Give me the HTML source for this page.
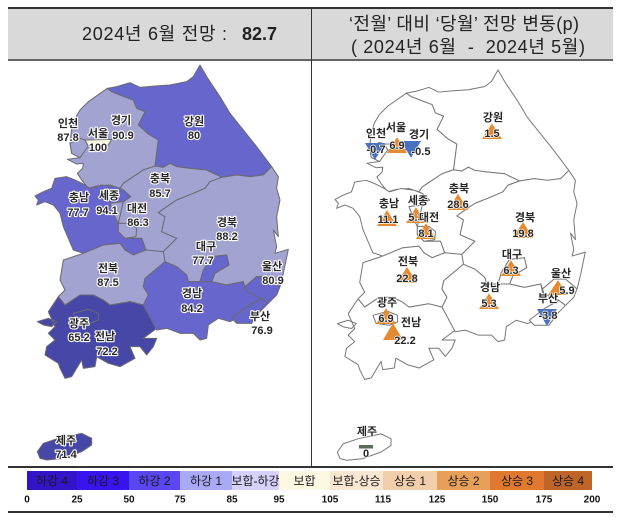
<!DOCTYPE html>
<html lang="ko">
<head>
<meta charset="utf-8">
<title>2024년 6월 전망</title>
<style>
html,body{margin:0;padding:0;background:#fff}
svg{display:block}
text{font-family:"Liberation Sans","Noto Sans CJK KR",sans-serif}
.lbl{font-size:11px;font-weight:700;fill:#262626;text-anchor:middle;paint-order:stroke;stroke:#fff;stroke-width:2.2px;stroke-linejoin:round;dominant-baseline:central}
.lbl.thin{stroke-width:1.4px}
.hd{font-size:18px;fill:#222}
.lg{font-size:12px;fill:#1a1a1a;text-anchor:middle;dominant-baseline:central}
.tk{font-size:10px;font-weight:700;fill:#111;text-anchor:middle;dominant-baseline:central}
</style>
</head>
<body>
<svg id="chart" width="622" height="517" viewBox="0 0 622 517" xmlns="http://www.w3.org/2000/svg">
  <rect x="8" y="8" width="605" height="51" fill="#d9d9d9"/>
  <rect x="8" y="7" width="605" height="2" fill="#333"/>
  <rect x="8" y="59" width="605" height="2" fill="#666"/>
  <rect x="311" y="8" width="1" height="459" fill="#333"/>
  <text class="hd" x="82" y="40" textLength="145" lengthAdjust="spacing">2024년 6월 전망 :</text>
  <text class="hd" x="242" y="40" style="font-weight:700" textLength="35" lengthAdjust="spacing">82.7</text>
  <text class="hd" x="349" y="30" textLength="230" lengthAdjust="spacing">‘전월’ 대비 ‘당월’ 전망 변동(p)</text>
  <text class="hd" x="351" y="53" textLength="234" lengthAdjust="spacing" xml:space="preserve">( 2024년 6월  -  2024년 5월)</text>
  <g id="leftMap" transform="translate(30 60) scale(.33333)"></g>
  <g id="rightMap" transform="translate(330.08 65.06) scale(.3293)"></g>
  <g id="marks"></g>
  <g id="leftLabels"></g>
  <g id="rightLabels"></g>
  <rect x="8" y="466" width="605" height="2" fill="#333"/>
  <g id="legend"></g>
  <rect x="8" y="511" width="605" height="2" fill="#333"/>
</svg>
<script>
// ---- data ----
const regions = ["경기","강원","충북","충남","경북","전북","전남","경남","울산","부산","대구","광주","인천","세종","대전","서울","제주"];
const indexValues = [90.9,80,85.7,77.7,88.2,87.5,72.2,84.2,80.9,76.9,77.7,65.2,87.8,94.1,86.3,100,71.4];
const changeValues = [-0.5,1.5,28.6,11.1,19.8,22.8,22.2,5.3,5.9,-3.8,6.3,6.9,-0.7,5.3,8.1,6.9,0];
const legendLabels = ["하강 4","하강 3","하강 2","하강 1","보합-하강","보합","보합-상승","상승 1","상승 2","상승 3","상승 4"];
const legendTicks = [0,25,50,75,85,95,105,115,125,150,175,200];

// ---- geometry (map outlines and label anchors, not data) ----
const shapes = {
"경기":"M232 85 245 95 270 105 310 120 320 145 345 155 335 175 325 195 355 222 385 240 375 318 340 330 310 350 280 370 270 385 240 375 200 378 175 385 155 360 142 340 158 325 160 310 140 312 112 298 150 293 125 280 120 250 125 205 135 175 150 150 175 125Z",
"강원":"M232 85 260 80 300 68 330 82 375 78 420 75 470 65 490 50 510 15 530 50 570 110 600 160 640 210 680 260 725 320 700 345 660 350 620 345 575 352 530 330 480 325 440 320 420 310 400 322 375 318 385 240 355 222 325 195 335 175 345 155 320 145 310 120 270 105 245 95Z",
"충북":"M270 385 280 370 310 350 340 330 375 318 400 322 420 310 440 320 480 325 530 330 575 352 540 365 525 385 490 400 440 420 410 440 385 458 405 470 395 515 440 535 425 550 400 575 350 575 335 535 285 535 265 515 265 490 250 470 240 430 280 425 302 410 280 390Z",
"충남":"M15 408 40 395 65 385 75 355 110 350 135 360 165 375 180 385 215 375 255 380 280 390 302 410 280 425 240 430 255 470 265 490 265 515 285 535 335 535 348 570 310 585 285 570 270 550 220 555 160 580 130 570 100 500 90 460 70 435 45 425 20 435 25 420Z",
"경북":"M575 352 620 345 660 350 700 345 725 320 745 350 740 385 750 420 740 470 745 530 730 510 740 560 735 580 775 568 760 640 750 680 715 650 680 650 645 680 640 665 590 675 545 665 555 640 597 615 590 585 545 590 520 630 510 665 475 665 470 645 440 620 405 605 400 575 425 550 440 535 395 515 405 470 385 458 410 440 440 420 490 400 525 385 540 365Z",
"전북":"M100 600 160 580 220 555 270 550 285 570 310 585 348 570 400 575 405 605 345 655 340 680 355 705 340 735 300 725 240 735 220 720 190 705 150 705 105 735 85 710 105 690 90 660Z",
"전남":"M85 710 105 735 150 705 190 705 220 720 240 735 300 725 340 735 380 805 340 835 380 835 370 860 350 885 330 860 300 860 315 895 270 920 235 910 200 890 195 920 160 925 155 900 125 950 105 955 90 925 85 910 45 885 50 860 75 840 55 820 75 800 55 755ZM22 785 55 775 80 785 65 800 40 795Z",
"경남":"M405 605 440 620 470 645 475 665 510 665 545 665 590 675 640 665 645 690 695 715 650 740 620 775 600 785 565 775 535 795 530 835 510 840 490 820 450 820 410 805 380 810 340 735 355 705 340 680 345 655Z",
"울산":"M645 680 680 650 715 650 750 680 740 705 715 730 695 715 650 695Z",
"부산":"M695 715 715 730 690 755 665 790 620 790 605 775 650 740Z",
"대구":"M545 590 590 585 597 615 555 640 545 665 510 665 520 630Z",
"광주":"M130 760 175 748 205 760 205 780 180 790 140 785Z",
"인천":"M120 250 150 235 165 240 175 258 150 293 125 280Z",
"세종":"M240 430 280 425 272 460 265 490 255 470Z",
"대전":"M265 490 300 490 320 505 318 530 285 535 265 515Z",
"서울":"M165 240 245 238 235 255 215 262 200 262 175 258Z",
"제주":"M22 1175 40 1150 85 1135 155 1120 185 1135 185 1155 155 1175 100 1195 50 1200 30 1195Z"
};
const leftAnchors = {"경기":[121,121,123,136],"강원":[194,122,194,136],"충북":[160,179,160,194],"충남":[79,198,78,213],"경북":[227,223,227,237],"전북":[108,269,108,283],"전남":[105,337,107,352],"경남":[192,294,192,309],"울산":[272,267,273,281],"부산":[260,317,262,331],"대구":[206,247,203,261],"광주":[79,324,79,338],"인천":[68,124,68,138],"세종":[109,196,107,211],"대전":[137,209,138,223],"서울":[98,134,98,148],"제주":[66,441,66,455]};
const rightAnchors = {"경기":[419,135,421,152,411,141],"강원":[493,118,492,134,492,139],"충북":[459,189,458,205,458,210],"충남":[389,204,388,220,387,226],"경북":[525,218,523,234,523,238],"전북":[408,262,407,279,407,283],"전남":[411,323,405,341,393,340],"경남":[490,288,489,304,489,309],"울산":[561,274,567,291,558,295],"부산":[548,299,548,316,547,309],"대구":[512,255,511,271,511,276],"광주":[387,303,386,319,386,324],"인천":[376,134,376,150,375,143],"세종":[418,201,416,218,416,223],"대전":[429,218,426,234,426,239],"서울":[396,128,397,146,397,153],"제주":[367,432,366,454,366,447]};
const baseHeight = {"전남":16.5,"울산":14.6,"경기":16.9,"인천":16.9,"부산":16.9};
const legendEdges = [27,77,129,180,232,279,330,383,437,490,544,592];
const legendColors = ["#3314c8","#3a14f0","#5a46f2","#a9a9f6","#d5d1fa","#fdf8e2","#f8e6d3","#f2cfac","#e89f5a","#e07830","#bf6428"];
const mapColors = ["#2a2a88","#36369a","#4747a8","#6666cc","#a3a3d1","#f5f5dc"];
const NS = "http://www.w3.org/2000/svg";

function binIndex(v){
  for(let i=legendTicks.length-2;i>=0;i--){ if(v>=legendTicks[i]) return i; }
  return 0;
}
function mapFill(v){
  const b = binIndex(v);
  return b < mapColors.length ? mapColors[b] : "#f2cfac";
}
function make(tag, attrs, parent){
  const el = document.createElementNS(NS, tag);
  for(const k in attrs) el.setAttribute(k, attrs[k]);
  parent.appendChild(el);
  return el;
}
function triPoints(name, v){
  const a = rightAnchors[name];
  const h = (baseHeight[name] || 15.6) + Math.abs(v) * 0.02;
  const half = 10;
  if(v > 0) return (a[4]-half)+","+a[5]+" "+(a[4]+half)+","+a[5]+" "+a[4]+","+(a[5]-h);
  return (a[4]-half)+","+a[5]+" "+(a[4]+half)+","+a[5]+" "+a[4]+","+(a[5]+h);
}

const leftMap = document.getElementById("leftMap");
const rightMap = document.getElementById("rightMap");
const marks = document.getElementById("marks");
const leftLabels = document.getElementById("leftLabels");
const rightLabels = document.getElementById("rightLabels");
const legend = document.getElementById("legend");

regions.forEach(function(name, i){
  const lp = make("path", {d:shapes[name], fill:mapFill(indexValues[i]), stroke:"#6a6a72", "stroke-width":"1", "vector-effect":"non-scaling-stroke", "stroke-linejoin":"round"}, leftMap);
  
  
  const rp = make("path", {d:shapes[name], fill:"#fff", stroke:"#777", "stroke-width":"1", "vector-effect":"non-scaling-stroke", "stroke-linejoin":"round"}, rightMap);
  
  
});

regions.forEach(function(name, i){
  const a = leftAnchors[name];
  const n1 = make("text", {class:"lbl", x:a[0], y:a[1]}, leftLabels);
  n1.textContent = name;
  
  
  const v1 = make("text", {class:"lbl", x:a[2], y:a[3]}, leftLabels);
  v1.textContent = String(indexValues[i]);
  
  

  const r = rightAnchors[name];
  const c = changeValues[i];
  if(c === 0){
    const bar = make("rect", {x:r[4]-7, y:r[5]-2, width:14, height:3.5, fill:"#5a6b5a"}, marks);
    
    
  } else {
    const tri = make("polygon", {points:triPoints(name, c), fill:c > 0 ? "#e58a2e" : "#4a70c0"}, marks);
    
    
  }
  const n2 = make("text", {class:"lbl thin", x:r[0], y:r[1]}, rightLabels);
  n2.textContent = name;
  
  
  const v2 = make("text", {class:"lbl thin", x:r[2], y:r[3]}, rightLabels);
  v2.textContent = String(c);
  
  
});

legendLabels.forEach(function(label, i){
  const x0 = legendEdges[i], x1 = legendEdges[i+1];
  const sw = make("rect", {x:x0, y:471, width:x1-x0, height:19, fill:legendColors[i]}, legend);
  
  
  const t = make("text", {class:"lg", x:(x0+x1)/2, y:481}, legend);
  t.textContent = label;
  
  
});
legendTicks.forEach(function(tick, i){
  const t = make("text", {class:"tk", x:legendEdges[i], y:500}, legend);
  t.textContent = String(tick);
  
  
});
</script>
</body>
</html>
